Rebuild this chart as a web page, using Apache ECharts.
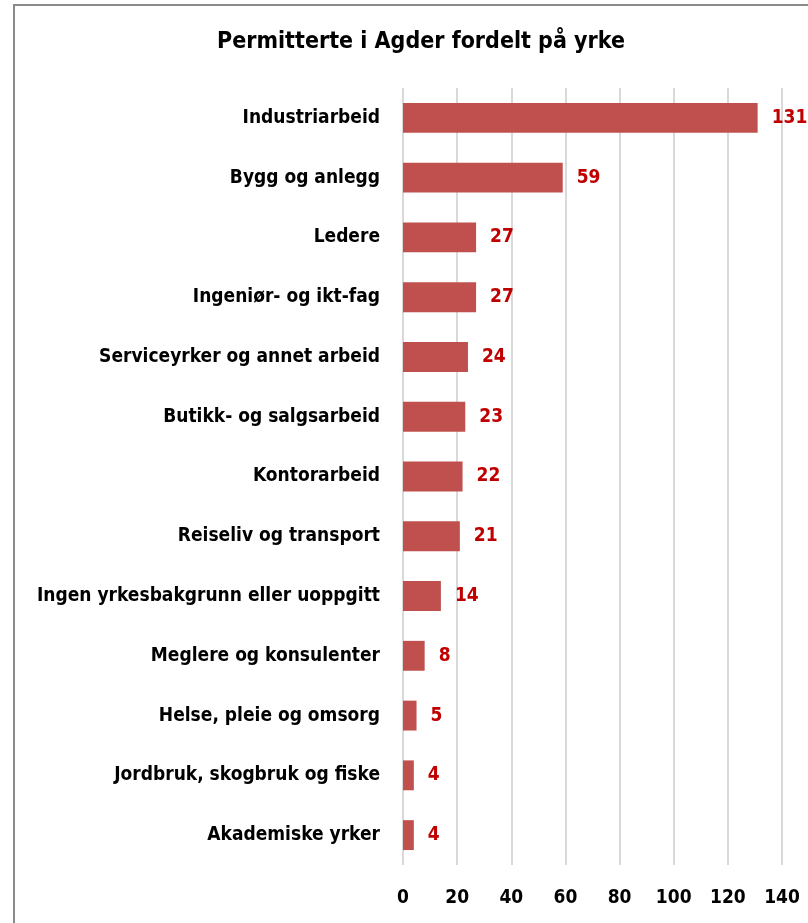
<!DOCTYPE html>
<html>
<head>
<meta charset="utf-8">
<script src="https://cdn.jsdelivr.net/npm/echarts@6/dist/echarts.min.js"></script>
<style>
    html, body { margin: 0; padding: 0; background: #fff; }
    #chart { width: 808px; height: 923px; }
</style>
</head>
<body>
<div id="chart"></div>
<script>
'use strict';

const titleText = 'Permitterte i Agder fordelt på yrke';

// top to bottom, as in the picture
const categories = [
    'Industriarbeid',
    'Bygg og anlegg',
    'Ledere',
    'Ingeniør- og ikt-fag',
    'Serviceyrker og annet arbeid',
    'Butikk- og salgsarbeid',
    'Kontorarbeid',
    'Reiseliv og transport',
    'Ingen yrkesbakgrunn eller uoppgitt',
    'Meglere og konsulenter',
    'Helse, pleie og omsorg',
    'Jordbruk, skogbruk og fiske',
    'Akademiske yrker'
];

const permitterte = [131, 59, 27, 27, 24, 23, 22, 21, 14, 8, 5, 4, 4];

const xTicks = { min: 0, max: 140, interval: 20 };

const fontFamily = '"DejaVu Sans Condensed", "Liberation Sans Narrow", sans-serif';

const chart = echarts.init(document.getElementById('chart'), null, { renderer: 'canvas' });

chart.setOption({
    animation: false,
    backgroundColor: '#fff',
    textStyle: { fontFamily: fontFamily },
    graphic: [
        {
            /*
             * Outer frame of the chart; the picture is cropped at right and bottom.
             */
            type: 'rect',
            shape: { x: 14, y: 5, width: 840, height: 960 },
            style: { fill: 'none', stroke: '#8a8a8a', lineWidth: 2 },
            z: -1
        },
        {
            type: 'text',
            x: 421,
            y: 31,
            style: {
                text: titleText,
                fill: '#000',
                font: 'bold 23px ' + fontFamily,
                align: 'center'
            }
        }
    ],
    grid: {
        left: 403,
        right: 26,
        top: 88,
        bottom: 58,
        containLabel: false,
        outerBoundsMode: 'none'
    },
    xAxis: {
        type: 'value',
        min: xTicks.min,
        max: xTicks.max,
        interval: xTicks.interval,
        axisLine: { show: false },
        axisTick: { show: false },
        splitLine: { lineStyle: { color: '#d9d9d9', width: 2 } },
        axisLabel: {
            color: '#000',
            fontWeight: 'bold',
            fontSize: 19,
            margin: 24,
            fontFamily: fontFamily
        }
    },
    yAxis: {
        type: 'category',
        data: categories,
        inverse: true,
        axisLine: { show: false },
        axisTick: { show: false },
        axisLabel: {
            color: '#000',
            fontWeight: 'bold',
            fontSize: 19,
            margin: 23,
            fontFamily: fontFamily
        }
    },
    series: [
        {
            type: 'bar',
            data: permitterte,
            barCategoryGap: '50%',
            itemStyle: { color: '#c0504d' },
            label: {
                show: true,
                position: 'right',
                distance: 14,
                color: '#c00000',
                fontWeight: 'bold',
                fontSize: 19,
                fontFamily: fontFamily
            }
        }
    ]
});
</script>
</body>
</html>
